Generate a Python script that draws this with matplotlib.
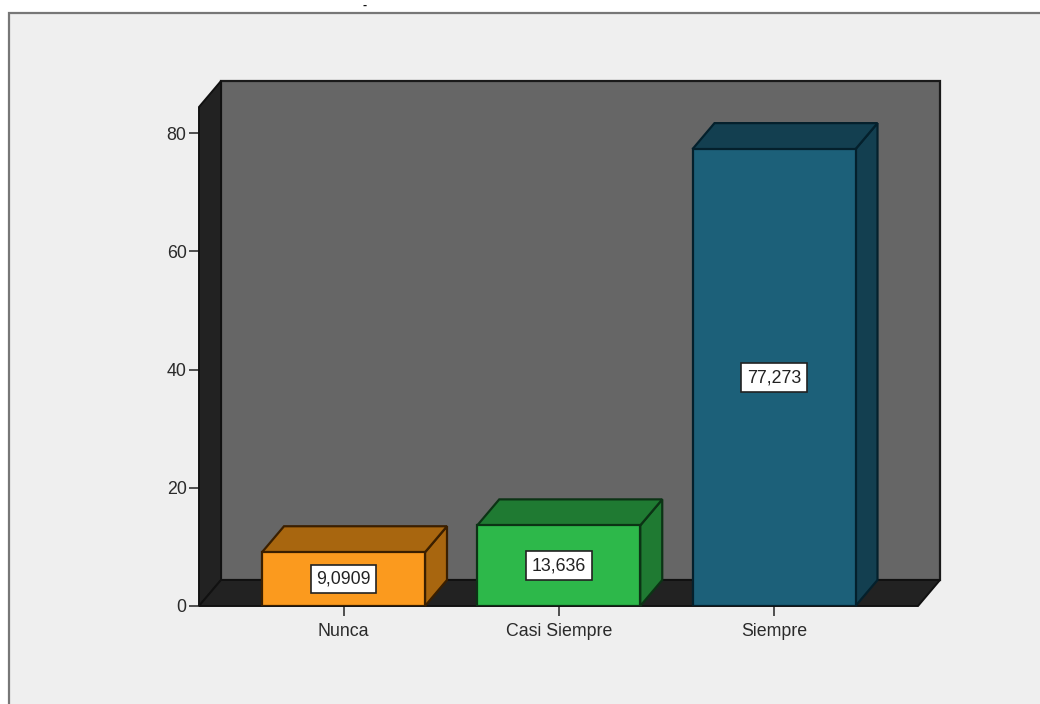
import matplotlib.pyplot as plt
from matplotlib.patches import Polygon, Rectangle

categories = ['Nunca', 'Casi Siempre', 'Siempre']
values = [9.0909, 13.636, 77.273]
value_labels = ['9,0909', '13,636', '77,273']
y_ticks = [0, 20, 40, 60, 80]

front_colors = ['#fb9a1e', '#2db84a', '#1c6079']
shade_colors = ['#a8660f', '#1f7a32', '#133f50']
edge_colors = ['#3a1f00', '#0c3315', '#04202c']

plt.rcParams['font.family'] = ['Liberation Sans', 'DejaVu Sans']

W, H = 1040, 704
fig = plt.figure(figsize=(W / 100, H / 100), dpi=100, facecolor='white')

# grey panel behind the chart, runs off the right and bottom edges
fig.add_artist(Rectangle((9 / W, -0.01), 1.02, 1 - 13 / H + 0.01, transform=fig.transFigure,
                         facecolor='#efefef', edgecolor='#777777', linewidth=1.6, zorder=-1))
fig.text(365 / W, 1 - 6 / H, '-', fontsize=9, fontweight='bold', color='#111111', ha='center', va='center')

left, right, bottom, top = 199, 918, 606, 107
ax = fig.add_axes([left / W, 1 - bottom / H, (right - left) / W, (bottom - top) / H])
ax.set_facecolor('none')

px_x = 215.25
px_y = 5.9125
ax.set_xlim((left - 343.5) / px_x, (right - 343.5) / px_x)
ax.set_ylim(0, (bottom - top) / px_y)
x0, x1 = ax.get_xlim()
y0, y1 = ax.get_ylim()

# depth of the 3D effect in data units
dx = 22 / px_x
dy = 26 / px_y


def box_faces(xa, xb, ya, yb, side_color, top_color, edge):
    ax.add_patch(Polygon([(xb, ya), (xb + dx, ya + dy), (xb + dx, yb + dy), (xb, yb)],
                         facecolor=side_color, edgecolor=edge, linewidth=1.6, clip_on=False, zorder=3))
    ax.add_patch(Polygon([(xa, yb), (xa + dx, yb + dy), (xb + dx, yb + dy), (xb, yb)],
                         facecolor=top_color, edgecolor=edge, linewidth=1.6, clip_on=False, zorder=3))


# back wall, left wall and floor
ax.add_patch(Rectangle((x0 + dx, y0 + dy), x1 - x0, y1 - y0, facecolor='#666666',
                       edgecolor='#1a1a1a', linewidth=1.6, clip_on=False, zorder=1))
ax.add_patch(Polygon([(x0, y0), (x0 + dx, y0 + dy), (x0 + dx, y1 + dy), (x0, y1)],
                     facecolor='#222222', edgecolor='#111111', linewidth=1.4, clip_on=False, zorder=2))
ax.add_patch(Polygon([(x0, y0), (x0 + dx, y0 + dy), (x1 + dx, y0 + dy), (x1, y0)],
                     facecolor='#222222', edgecolor='#111111', linewidth=1.4, clip_on=False, zorder=2))

bar_width = 163 / px_x
positions = list(range(len(categories)))
ax.bar(positions, values, width=bar_width, color=front_colors, edgecolor=edge_colors,
       linewidth=1.6, zorder=4)

for pos, val, label, side, edge in zip(positions, values, value_labels, shade_colors, edge_colors):
    box_faces(pos - bar_width / 2, pos + bar_width / 2, 0, val, side, side, edge)
    ax.text(pos, val / 2, label, ha='center', va='center', fontsize=12.8, color='#222222', zorder=5,
            bbox=dict(boxstyle='square,pad=0.32', facecolor='white', edgecolor='#222222', linewidth=1.2))

ax.set_xticks(positions)
ax.set_xticklabels(categories)
ax.set_yticks(y_ticks)
ax.tick_params(axis='both', length=7.5, width=1.2, color='#333333', labelcolor='#2a2a2a', labelsize=12.8)
ax.tick_params(axis='x', pad=5)
ax.tick_params(axis='y', pad=1.5)
for spine in ax.spines.values():
    spine.set_visible(False)

fig.savefig('out.png', dpi=100)
